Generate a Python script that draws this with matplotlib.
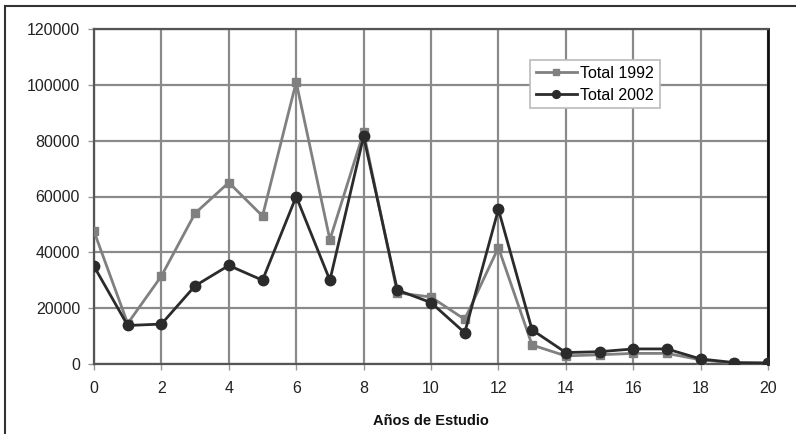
import matplotlib
matplotlib.use("Agg")
import matplotlib.pyplot as plt
from matplotlib.lines import Line2D

plt.rcParams['font.family'] = ['Liberation Sans', 'DejaVu Sans']

# Years of schooling and population totals per census
anos = list(range(0, 21))
total_1992 = [47500, 14500, 31500, 54000, 65000, 53000, 101000, 44500, 83000, 25500,
              24000, 16000, 41700, 6800, 2900, 3300, 3800, 3800, 1500, 300, 200]
total_2002 = [35000, 13800, 14300, 28000, 35300, 30000, 60000, 30000, 81500, 26500,
              22000, 11200, 55400, 12200, 4100, 4400, 5400, 5400, 1800, 500, 400]

x_ticks = list(range(0, 21, 2))
y_ticks = [0, 20000, 40000, 60000, 80000, 100000, 120000]

fig = plt.figure(figsize=(7.96, 4.34), dpi=100)
ax = fig.add_axes([94 / 796, 70 / 434, 674 / 796, 335 / 434])

ax.plot(anos, total_1992, color='#808080', lw=2.0, marker='s', ms=5.5,
        label='Total 1992', zorder=3)
ax.plot(anos, total_2002, color='#2b2b2b', lw=2.0, marker='o', ms=7.5,
        label='Total 2002', zorder=4)

ax.set_xlim(0, 20)
ax.set_ylim(0, 120000)
ax.set_xticks(x_ticks)
ax.set_yticks(y_ticks)
ax.tick_params(axis='both', labelsize=11.5, colors='#222222', length=4,
               width=1)
ax.tick_params(axis='x', pad=8)
ax.tick_params(axis='y', pad=6)
ax.tick_params(axis='both', color='#999999')
ax.grid(True, color='#8a8a8a', lw=1.6)
ax.set_axisbelow(True)

for side in ['left', 'bottom', 'top']:
    ax.spines[side].set_color('#555555')
    ax.spines[side].set_linewidth(1.6)
ax.spines['right'].set_color('#111111')
ax.spines['right'].set_linewidth(2)

ax.set_xlabel('Años de Estudio', fontsize=10.5, fontweight='bold',
              color='#111111', labelpad=13)

leg = ax.legend(loc='upper left', bbox_to_anchor=(530 / 796, 1 - 60 / 434),
                bbox_transform=fig.transFigure, fontsize=11.5, frameon=True,
                fancybox=False, edgecolor='#bbbbbb', framealpha=1,
                borderpad=0.35, handlelength=2.6, handletextpad=0.2,
                labelspacing=0.45, borderaxespad=0, markerscale=0.75)
leg.get_frame().set_linewidth(1.2)

# Outer frame around the figure
fig.add_artist(Line2D([5 / 796, 1], [1 - 6 / 434, 1 - 6 / 434],
                      transform=fig.transFigure, color='#333333', lw=1.5))
fig.add_artist(Line2D([5 / 796, 5 / 796], [0, 1 - 6 / 434],
                      transform=fig.transFigure, color='#333333', lw=1.5))

fig.savefig('out.png', dpi=100)
